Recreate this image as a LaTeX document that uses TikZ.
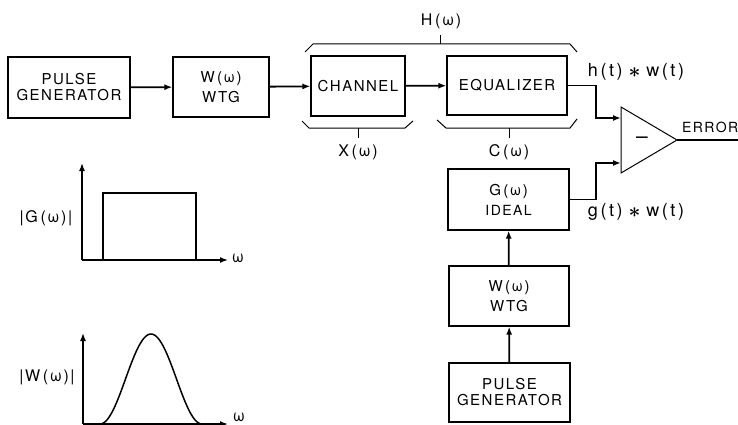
\documentclass[tikz,border=0pt]{standalone}
\usepackage{fontspec}
\setmainfont{TeX Gyre Heros}
\newfontfamily\lblfont[LetterSpace=10]{TeX Gyre Heros}
\newfontfamily\lowfont[LetterSpace=14]{TeX Gyre Heros}
\usetikzlibrary{arrows.meta}
\newcommand{\bigast}{\raisebox{-1pt}{\fontsize{20}{20}\selectfont$\boldsymbol{\ast}$}}
\usepackage{amsmath,amssymb,bm}
\begin{document}
\begin{tikzpicture}[x=1pt,y=-1pt,
  blk/.style={draw, line width=1.2pt, inner sep=0pt, align=center,
    font=\lblfont\fontsize{15}{16}\selectfont},
  arr/.style={line width=1.8pt, -{Latex[length=8pt,width=6pt]}},
  brc/.style={line width=1pt},
  lbl/.style={inner sep=0pt, font=\lblfont\fontsize{16}{18}\selectfont},
  low/.style={inner sep=0pt, font=\lowfont\fontsize{18}{20}\selectfont},
  ax/.style={line width=1.5pt, -{Latex[length=8pt,width=6pt]}}]
\useasboundingbox (0,0) rectangle (738,425);
% top chain
\node[blk, minimum width=122pt, minimum height=61pt] (pg1) at (69,87.5) {PULSE\\GENERATOR};
\node[blk, minimum width=96pt, minimum height=60pt] (wtg1) at (221,87) {W\,(ω)\\[4pt]WTG};
\node[blk, minimum width=94pt, minimum height=60pt] (ch) at (358,86) {CHANNEL};
\node[blk, minimum width=120pt, minimum height=59pt] (eq) at (507,85.5) {EQUALIZER};
% lower chain
\node[blk, minimum width=121pt, minimum height=61pt] (gi) at (508.5,199.5) {G\,(ω)\\[4pt]{\fontsize{14}{15}\selectfont IDEAL}};
\node[blk, minimum width=120pt, minimum height=60pt] (wtg2) at (509,296) {W\,(ω)\\[4pt]WTG};
\node[blk, minimum width=121pt, minimum height=59pt] (pg2) at (509.5,392.5) {PULSE\\GENERATOR};
\draw[arr] (pg1) -- (wtg1);
\draw[arr] (wtg1) -- (ch);
\draw[arr] (ch) -- (eq);
\draw[arr] (pg2) -- (wtg2);
\draw[arr] (wtg2) -- (gi);
% comparator
\coordinate (t1) at (621,107);
\coordinate (t2) at (621,173);
\coordinate (t3) at (677,140);
\coordinate (in1) at (621,118);
\coordinate (in2) at (621,163);
\coordinate (out) at (738,140);
\draw[line width=1pt] (t1) -- (t3) -- (t2) -- cycle;
\node[inner sep=0pt, font=\fontsize{21}{22}\selectfont] (minus) at (642,140) {–};
\draw[arr] (eq.east) -- ++(28,0) |- (in1);
\draw[arr] (gi.east) -- ++(26,0) |- (in2);
\draw[line width=1.5pt] (t3) -- (out);
\node[inner sep=0pt, anchor=base west, font=\lblfont\fontsize{14}{15}\selectfont] (err) at (682,132) {ERROR};
\node[low] (hw) at (636,72) {h(t)\hspace{6pt}\bigast\hspace{6pt}w(t)};
\node[low] (gw) at (636,212) {g(t)\hspace{6pt}\bigast\hspace{6pt}w(t)};
% braces
\draw[brc] (305,52) -- (313,44) -- (570,44) -- (577,52);
\draw[brc] (440,44) -- (440,35);
\node[lbl] (H) at (441,21) {H\,(ω)};
\draw[brc] (302,121) -- (309,128) -- (405,128) -- (413,121);
\draw[brc] (358,128) -- (358,138);
\node[lbl] (X) at (358,152) {X\,(ω)};
\draw[brc] (437,120) -- (446,128) -- (570,128) -- (577,119);
\draw[brc] (509,128) -- (509,138);
\node[lbl] (C) at (509,152) {C\,(ω)};
% graph G
\draw[ax] (82,260) -- (82,163);
\draw[ax] (82,260) -- (228,260);
\draw[line width=1.5pt] (103,260) -- (103,193) -- (196,193) -- (196,260);
\node[lbl] (om1) at (238,258) {ω};
\node[lbl] (Gl) at (46,218) {|G\,(ω)|};
% graph W
\draw[ax] (83,424) -- (83,333);
\draw[ax] (83,424) -- (228,424);
\draw[line width=1.5pt, smooth] plot[domain=101:203, samples=60] ({\x},{424-90*(0.5+0.5*cos(180*(\x-151)/51))});
\node[lbl] (om2) at (239,417) {ω};
\node[lbl] (Wl) at (47,377) {|W\,(ω)|};
\end{tikzpicture}
\end{document}
